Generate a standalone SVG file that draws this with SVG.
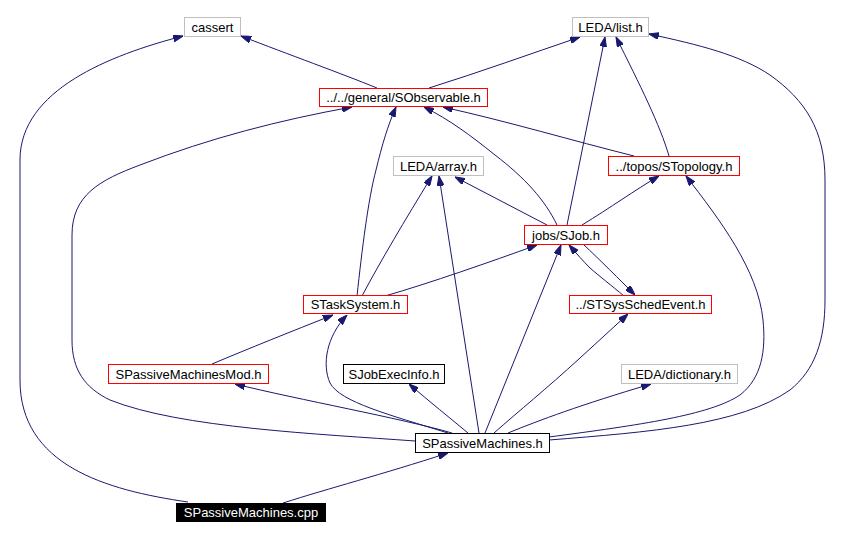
<svg xmlns="http://www.w3.org/2000/svg" width="844" height="540" viewBox="0 0 844 540">
<defs>
<style>
.n rect{fill:#fff;stroke-width:1}
.g rect{stroke:#bfbfbf}
.r rect{stroke:#ff0000}
.k rect{stroke:#000}
text{font-family:"Liberation Sans",Arial,sans-serif;font-size:13px;text-anchor:middle;fill:#000}
.e path{fill:none;stroke:#191970;stroke-width:1;marker-end:url(#ah)}
</style>
<marker id="ah" viewBox="0 0 10 7" refX="10" refY="3.5" markerWidth="10" markerHeight="7" markerUnits="userSpaceOnUse" orient="auto">
<path d="M0,0 L10,3.5 L0,7 z" fill="#191970" stroke="#191970"/>
</marker>
</defs>
<rect width="844" height="540" fill="#fff"/>
<g id="edges" class="e">
<path d="M188,502 C105,490 20,465 20,380 L20,160 C20,90 110,55 183,36"/>
<path d="M283,503 C330,488 380,475 448,453"/>
<path d="M415,441 C320,434 180,428 110,400 C85,388 72,370 72,340 L72,235 C72,195 100,180 140,165 C210,138 280,120 352,107"/>
<path d="M452,433 C400,418 300,400 235,384"/>
<path d="M448,433 C390,415 340,402 330,383 C322,365 326,337 347,315"/>
<path d="M468,433 C450,418 430,402 409,384"/>
<path d="M479,433 L439,176"/>
<path d="M485,433 L561,245"/>
<path d="M494,433 C520,410 545,390 580,358 L628,314"/>
<path d="M508,433 C540,420 580,405 651,384"/>
<path d="M549,437 C640,425 710,415 740,395 C762,378 766,350 763,320 C758,270 720,220 686,176"/>
<path d="M549,440 C650,432 740,425 790,390 C815,370 825,340 825,300 L825,180 C825,130 805,100 770,75 C740,55 700,45 649,34"/>
<path d="M567,225 L605,37"/>
<path d="M557,225 C545,200 525,178 495,155 C470,135 450,120 424,107"/>
<path d="M547,225 L455,177"/>
<path d="M582,225 C610,208 635,190 659,176"/>
<path d="M583,244 C600,260 620,280 635,295"/>
<path d="M624,296 C612,286 598,275 590,268 C583,261 577,254 569,245"/>
<path d="M357,296 C362,250 368,200 376,170 C382,145 388,125 396,107"/>
<path d="M362,296 C380,262 405,220 432,176"/>
<path d="M385,296 C430,283 490,262 537,245"/>
<path d="M669,156 C660,125 640,85 616,37"/>
<path d="M634,156 C570,140 510,122 443,107"/>
<path d="M377,88 C340,73 290,55 241,36"/>
<path d="M429,88 C480,72 530,54 580,37"/>
<path d="M212,364 C250,348 290,332 333,315"/>
</g>
<g id="cassert" class="n g"><rect x="184.5" y="17.5" width="56" height="19"/><text x="212.5" y="31.5">cassert</text></g>
<g id="list" class="n g"><rect x="572.5" y="17.5" width="76" height="19"/><text x="610.5" y="31.5">LEDA/list.h</text></g>
<g id="sobservable" class="n r"><rect x="319.5" y="88.5" width="168" height="18"/><text x="403.5" y="102">../../general/SObservable.h</text></g>
<g id="array" class="n g"><rect x="393.5" y="156.5" width="90" height="19"/><text x="438.5" y="170.5">LEDA/array.h</text></g>
<g id="stopology" class="n r"><rect x="608.5" y="156.5" width="131" height="19"/><text x="674" y="170.5">../topos/STopology.h</text></g>
<g id="sjob" class="n r"><rect x="524.5" y="225.5" width="83" height="19"/><text x="566" y="239.5">jobs/SJob.h</text></g>
<g id="stasksystem" class="n r"><rect x="303.5" y="295.5" width="104" height="18"/><text x="355.5" y="309">STaskSystem.h</text></g>
<g id="stsysschedevent" class="n r"><rect x="569.5" y="295.5" width="142" height="18"/><text x="640.5" y="309">../STSysSchedEvent.h</text></g>
<g id="spmmod" class="n r"><rect x="108.5" y="364.5" width="160" height="19"/><text x="188.5" y="378.5">SPassiveMachinesMod.h</text></g>
<g id="sjobexecinfo" class="n k"><rect x="343.5" y="364.5" width="101" height="19"/><text x="394" y="378.5">SJobExecInfo.h</text></g>
<g id="dictionary" class="n g"><rect x="621.5" y="364.5" width="116" height="19"/><text x="679.5" y="378.5">LEDA/dictionary.h</text></g>
<g id="spmh" class="n k"><rect x="415.5" y="433.5" width="134" height="19"/><text x="482.5" y="447.5">SPassiveMachines.h</text></g>
<g id="spmcpp"><rect x="176" y="503" width="150" height="19" fill="#000"/><text x="251" y="517" style="fill:#fff">SPassiveMachines.cpp</text></g>
</svg>
